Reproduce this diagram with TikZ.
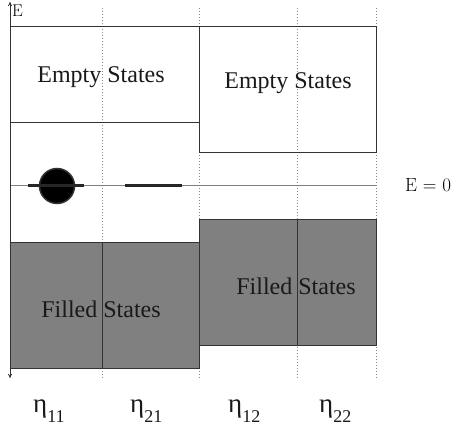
\documentclass[tikz,border=0pt]{standalone}
\usepackage{fontspec}
\setmainfont{Liberation Serif}
\newfontfamily\lmr{Latin Modern Roman}
\usetikzlibrary{arrows.meta}
\definecolor{edgec}{HTML}{333333}
\definecolor{fillc}{HTML}{808080}
\definecolor{dotc}{HTML}{888888}
\tikzset{
  boxline/.style={draw=edgec, line width=1pt},
  filledbox/.style={fill=fillc, draw=edgec, line width=1pt},
  guide/.style={draw=dotc, line width=1pt, dash pattern=on 1pt off 2pt},
  statelabel/.style={font=\fontsize{24}{24}\selectfont, text=black!90, anchor=base, inner sep=0pt},
  etalabel/.style={anchor=base west, inner sep=0pt, text=black!90},
  bar/.style={draw=black!85, line width=3pt},
}
\newcommand{\etalab}[1]{{\fontsize{27}{27}\selectfont η}\raisebox{-10pt}{\fontsize{18}{18}\selectfont #1}}
\begin{document}
\begin{tikzpicture}[x=1pt,y=-1pt]
\useasboundingbox (0,0) rectangle (453,435);
% guides
\foreach \gx/\gn in {102/a,199/b,297/c,376/d}{
  \coordinate (gt\gn) at (\gx,8);
  \coordinate (gb\gn) at (\gx,378);
  \draw[guide] (gt\gn) -- (gb\gn);
}
% filled boxes
\path[filledbox] (10,243) rectangle (199,369);
\path[filledbox] (199,220) rectangle (376,346);
\coordinate (d1t) at (102,243); \coordinate (d1b) at (102,369);
\coordinate (d2t) at (297,220); \coordinate (d2b) at (297,346);
\draw[boxline] (d1t) -- (d1b);
\draw[boxline] (d2t) -- (d2b);
% empty boxes
\draw[boxline] (10,27) -- (199,27) -- (199,123) -- (10,123);
\draw[boxline] (199,27) -- (376,27) -- (376,153) -- (199,153) -- (199,123);
% zero line
\coordinate (z0) at (10,186);
\coordinate (z1) at (376,186);
\draw[draw=fillc, line width=1pt] (z0) -- (z1);
% axis
\coordinate (axt) at (10,2);
\coordinate (axb) at (10,378);
\draw[draw=edgec, line width=0.8pt, {To[length=4pt,width=4pt]}-{To[length=4pt,width=4pt]}] (axb) -- (axt);
\node[anchor=base west, inner sep=0pt, font=\lmr\fontsize{17}{17}\selectfont] (elab) at (12,17) {E};
\node[anchor=base west, inner sep=0pt, font=\lmr\fontsize{19}{19}\selectfont] (ezero) at (405,192) {E = 0};
% levels
\coordinate (b1a) at (28,186); \coordinate (b1b) at (84,186);
\coordinate (b2a) at (125,186); \coordinate (b2b) at (182,186);
\node[circle, fill=black, draw=edgec, line width=1.5pt, minimum size=35pt, inner sep=0pt] (dot) at (57,186) {};
\draw[bar] (b1a) -- (b1b);
\draw[bar] (b2a) -- (b2b);
% labels
\node[statelabel] (es1) at (101,83) {Empty States};
\node[statelabel] (es2) at (288,89) {Empty States};
\node[statelabel] (fs1) at (101,318) {Filled States};
\node[statelabel] (fs2) at (296,295) {Filled States};
\node[etalabel] (e11) at (33,413) {\etalab{11}};
\node[etalabel] (e21) at (130,413) {\etalab{21}};
\node[etalabel] (e12) at (228,413) {\etalab{12}};
\node[etalabel] (e22) at (319,413) {\etalab{22}};
\end{tikzpicture}
\end{document}
